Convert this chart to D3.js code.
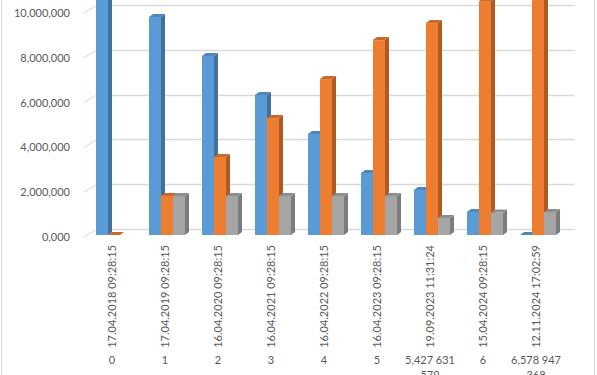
<!DOCTYPE html>
<html>
<head>
<meta charset="utf-8">
<script src="https://cdn.jsdelivr.net/npm/d3@7"></script>
<style>
  body { margin: 0; background: #fff; }
  text { font-family: Lato, "Open Sans", sans-serif; fill: #595959; }
</style>
</head>
<body>
<svg id="chart" width="597" height="375"></svg>
<script>
// category labels (two rows)
var dates = ['17.04.2018 09:28:15', '17.04.2019 09:28:15', '16.04.2020 09:28:15',
             '16.04.2021 09:28:15', '16.04.2022 09:28:15', '16.04.2023 09:28:15',
             '19.09.2023 11:31:24', '15.04.2024 09:28:15', '12.11.2024 17:02:59'];
var groups = [['0'], ['1'], ['2'], ['3'], ['4'], ['5'], ['5,427 631', '579'], ['6'], ['6,578 947', '368']];

// series
var blueVals   = [11470000, 9730000, 7990000, 6250000, 4510000, 2770000, 2010000, 1030000, 0];
var orangeVals = [0, 1740000, 3480000, 5220000, 6960000, 8700000, 9460000, 10440000, 11470000];
var grayVals   = [null, 1740000, 1740000, 1740000, 1740000, 1740000, 760000, 1000000, 1030000];

var yTicks = [0, 2000000, 4000000, 6000000, 8000000, 10000000];
var yTickLabels = ['0,000', '2,000,000', '4,000,000', '6,000,000', '8,000,000', '10,000,000'];

var series = [
  {vals: blueVals,   front: '#5B9BD5', side: '#41719C', top: '#4E87C0'},
  {vals: orangeVals, front: '#ED7D31', side: '#AE5A21', top: '#C9692A'},
  {vals: grayVals,   front: '#A5A5A5', side: '#7C7C7C', top: '#8E8E8E'}
];

var svg = d3.select('#chart');

var x = d3.scaleBand()
  .domain(d3.range(dates.length))
  .range([85.5, 562.5]);

var y = d3.scaleLinear()
  .domain([0, 10000000])
  .range([237, 13]);

// depth of the floor / back wall and of a bar
var wallDx = 12, wallDy = -8;
var barDx = 4, barDy = -3;
var barW = 12;

// chart border
svg.append('line').attr('x1', 1.5).attr('x2', 1.5).attr('y1', 0).attr('y2', 375)
   .style('stroke', '#D9D9D9');
svg.append('line').attr('x1', 594.5).attr('x2', 594.5).attr('y1', 0).attr('y2', 375)
   .style('stroke', '#D9D9D9');

// gridlines: back wall + side wall diagonal
var grid = svg.append('g').attr('class', 'grid');
yTicks.forEach(function(v){
  var yb = Math.round(y(v) + wallDy) + 0.5;
  grid.append('line')
    .attr('x1', x.range()[0] + wallDx).attr('x2', x.range()[1] + wallDx)
    .attr('y1', yb).attr('y2', yb)
    .style('stroke', '#D9D9D9').style('stroke-width', 1.5);
  grid.append('line')
    .attr('x1', x.range()[0] - 2).attr('y1', y(v))
    .attr('x2', x.range()[0] + wallDx).attr('y2', y(v) + wallDy)
    .style('stroke', '#D9D9D9').style('stroke-width', 1);
});

// y labels
var yAxis = d3.axisLeft(y)
  .tickValues(yTicks)
  .tickFormat(function(d, i){ return yTickLabels[i]; })
  .tickSize(0)
  .tickPadding(0);

var gy = svg.append('g')
  .attr('transform', 'translate(70,0)')
  .call(yAxis);
gy.select('.domain').remove();
gy.selectAll('text')
  .attr('font-family', null)
  .style('font-size', '11px')
  .style('fill', '#595959');

// bars, drawn left to right so later fronts cover earlier sides
function drawBar(g, x0, v, s){
  var yb = y(0) - 2, yt = y(v) - 2;
  // front
  g.append('rect')
   .attr('x', x0).attr('y', yt)
   .attr('width', barW).attr('height', yb - yt)
   .style('fill', s.front);
  // side
  g.append('path')
   .attr('d', 'M' + (x0 + barW) + ',' + yb + 'L' + (x0 + barW) + ',' + yt +
              'L' + (x0 + barW + barDx) + ',' + (yt + barDy) +
              'L' + (x0 + barW + barDx) + ',' + (yb + barDy) + 'Z')
   .style('fill', s.side);
  // top
  g.append('path')
   .attr('d', 'M' + x0 + ',' + yt + 'L' + (x0 + barW) + ',' + yt +
              'L' + (x0 + barW + barDx) + ',' + (yt + barDy) +
              'L' + (x0 + barDx) + ',' + (yt + barDy) + 'Z')
   .style('fill', s.top);
}

var bars = svg.append('g').attr('class', 'bars');
for(var i = 0; i < dates.length; i ++){
  var cx = x(i) + x.bandwidth() / 2;
  var g = bars.append('g').attr('class', 'cluster');
  for(var k = 0; k < series.length; k ++){
    var v = series[k].vals[i];
    if(v === null) continue;
    drawBar(g, cx - 16 + k * barW, v, series[k]);
  }
}

// category labels: rotated dates
var cat = svg.append('g').attr('class', 'cats');
dates.forEach(function(d, i){
  var cx = x(i) + x.bandwidth() / 2;
  cat.append('text')
    .attr('transform', 'translate(' + cx + ',245) rotate(-90)')
    .attr('text-anchor', 'end')
    .attr('dy', '0.35em')
    .style('font-size', '11px')
    .text(d);
});

// second row
groups.forEach(function(lines, i){
  var cx = x(i) + x.bandwidth() / 2;
  var t = cat.append('text')
    .attr('text-anchor', 'middle')
    .style('font-size', '11px');
  lines.forEach(function(l, j){
    t.append('tspan')
     .attr('x', cx)
     .attr('y', 360 + j * 15)
     .attr('dy', '0.35em')
     .text(l);
  });
});
</script>
</body>
</html>
